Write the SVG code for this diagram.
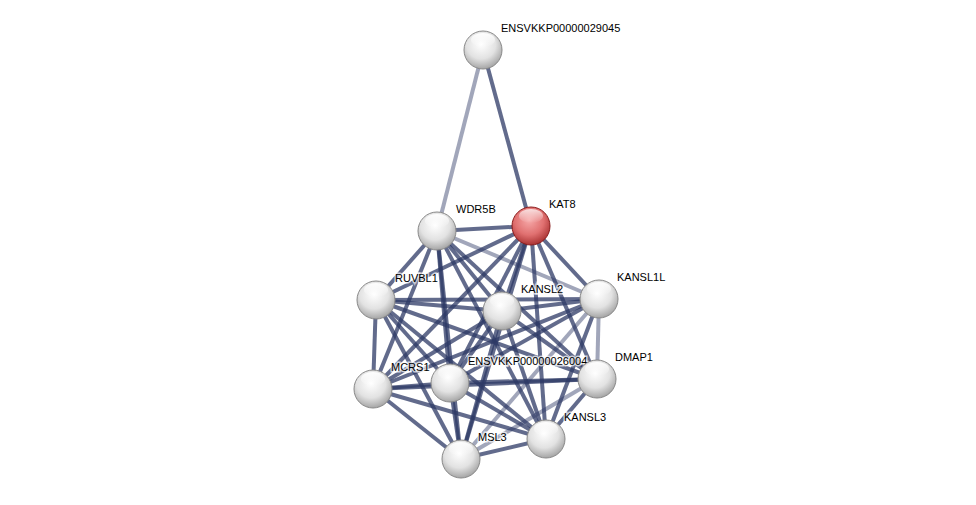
<svg xmlns="http://www.w3.org/2000/svg" width="976" height="505" viewBox="0 0 976 505">
<style>
.e{stroke:#2e3a66;stroke-width:4;fill:none;stroke-opacity:0.75}
.l{stroke-opacity:0.45}
.t{font-family:"Liberation Sans",Arial,sans-serif;font-size:11px;fill:#000;paint-order:stroke;stroke:#fff;stroke-width:3;stroke-opacity:0.7}
</style>
<defs>
<radialGradient id="g" cx="0.45" cy="0.35" r="0.7">
<stop offset="0" stop-color="#ffffff"/>
<stop offset="0.55" stop-color="#e2e2e2"/>
<stop offset="1" stop-color="#9a9a9a"/>
</radialGradient>
<radialGradient id="r" cx="0.45" cy="0.35" r="0.7">
<stop offset="0" stop-color="#f6a8a8"/>
<stop offset="0.55" stop-color="#e07070"/>
<stop offset="1" stop-color="#a02828"/>
</radialGradient>
<linearGradient id="h" x1="0" y1="0" x2="0" y2="1">
<stop offset="0" stop-color="#fff" stop-opacity="0.95"/>
<stop offset="1" stop-color="#fff" stop-opacity="0"/>
</linearGradient>
</defs>
<g id="edges">
<line class="e l" x1="483" y1="50" x2="437" y2="231"/>
<line class="e" x1="483" y1="50" x2="531" y2="226"/>
<line class="e" x1="531" y1="226" x2="437" y2="231"/>
<line class="e" x1="531" y1="226" x2="376" y2="300"/>
<line class="e" x1="531" y1="226" x2="502" y2="311"/>
<line class="e" x1="531" y1="226" x2="599" y2="299"/>
<line class="e" x1="531" y1="226" x2="373" y2="389"/>
<line class="e" x1="531" y1="226" x2="450" y2="383"/>
<line class="e" x1="531" y1="226" x2="597" y2="379"/>
<line class="e" x1="531" y1="226" x2="546" y2="439"/>
<line class="e" x1="531" y1="226" x2="461" y2="459"/>
<line class="e" x1="437" y1="231" x2="376" y2="300"/>
<line class="e" x1="437" y1="231" x2="502" y2="311"/>
<line class="e l" x1="437" y1="231" x2="599" y2="299"/>
<line class="e" x1="437" y1="231" x2="373" y2="389"/>
<line class="e" x1="437" y1="231" x2="450" y2="383"/>
<line class="e" x1="437" y1="231" x2="597" y2="379"/>
<line class="e" x1="437" y1="231" x2="546" y2="439"/>
<line class="e" x1="437" y1="231" x2="461" y2="459"/>
<line class="e" x1="376" y1="300" x2="502" y2="311"/>
<line class="e" x1="376" y1="300" x2="599" y2="299"/>
<line class="e" x1="376" y1="300" x2="373" y2="389"/>
<line class="e" x1="376" y1="300" x2="450" y2="383"/>
<line class="e" x1="376" y1="300" x2="597" y2="379"/>
<line class="e" x1="376" y1="300" x2="546" y2="439"/>
<line class="e" x1="376" y1="300" x2="461" y2="459"/>
<line class="e" x1="502" y1="311" x2="599" y2="299"/>
<line class="e" x1="502" y1="311" x2="373" y2="389"/>
<line class="e" x1="502" y1="311" x2="450" y2="383"/>
<line class="e" x1="502" y1="311" x2="597" y2="379"/>
<line class="e" x1="502" y1="311" x2="546" y2="439"/>
<line class="e" x1="502" y1="311" x2="461" y2="459"/>
<line class="e" x1="599" y1="299" x2="373" y2="389"/>
<line class="e" x1="599" y1="299" x2="450" y2="383"/>
<line class="e l" x1="599" y1="299" x2="597" y2="379"/>
<line class="e" x1="599" y1="299" x2="546" y2="439"/>
<line class="e l" x1="599" y1="299" x2="461" y2="459"/>
<line class="e" x1="373" y1="389" x2="450" y2="383"/>
<line class="e" x1="373" y1="389" x2="597" y2="379"/>
<line class="e" x1="373" y1="389" x2="546" y2="439"/>
<line class="e" x1="373" y1="389" x2="461" y2="459"/>
<line class="e" x1="450" y1="383" x2="597" y2="379"/>
<line class="e" x1="450" y1="383" x2="546" y2="439"/>
<line class="e" x1="450" y1="383" x2="461" y2="459"/>
<line class="e l" x1="597" y1="379" x2="461" y2="459"/>
<line class="e" x1="597" y1="379" x2="546" y2="439"/>
<line class="e" x1="546" y1="439" x2="461" y2="459"/>
</g>
<g id="n_ENSVKKP00000029045"><circle cx="483" cy="50" r="19" fill="url(#g)" stroke="#888" stroke-width="1"/><ellipse cx="483" cy="40" rx="12" ry="7" fill="url(#h)"/><text class="t" x="501" y="32">ENSVKKP00000029045</text></g>
<g id="n_KAT8"><circle cx="531" cy="226" r="19" fill="url(#r)" stroke="#8a1c1c" stroke-width="1"/><ellipse cx="531" cy="216" rx="12" ry="7" fill="url(#h)" opacity="0.8"/><text class="t" x="549" y="208">KAT8</text></g>
<g id="n_WDR5B"><circle cx="437" cy="231" r="19" fill="url(#g)" stroke="#888" stroke-width="1"/><ellipse cx="437" cy="221" rx="12" ry="7" fill="url(#h)"/><text class="t" x="456" y="213">WDR5B</text></g>
<g id="n_RUVBL1"><circle cx="376" cy="300" r="19" fill="url(#g)" stroke="#888" stroke-width="1"/><ellipse cx="376" cy="290" rx="12" ry="7" fill="url(#h)"/><text class="t" x="395" y="282">RUVBL1</text></g>
<g id="n_KANSL2"><circle cx="502" cy="311" r="19" fill="url(#g)" stroke="#888" stroke-width="1"/><ellipse cx="502" cy="301" rx="12" ry="7" fill="url(#h)"/><text class="t" x="521" y="293">KANSL2</text></g>
<g id="n_KANSL1L"><circle cx="599" cy="299" r="19" fill="url(#g)" stroke="#888" stroke-width="1"/><ellipse cx="599" cy="289" rx="12" ry="7" fill="url(#h)"/><text class="t" x="617" y="281">KANSL1L</text></g>
<g id="n_MCRS1"><circle cx="373" cy="389" r="19" fill="url(#g)" stroke="#888" stroke-width="1"/><ellipse cx="373" cy="379" rx="12" ry="7" fill="url(#h)"/><text class="t" x="391" y="371">MCRS1</text></g>
<g id="n_ENSVKKP00000026004"><circle cx="450" cy="383" r="19" fill="url(#g)" stroke="#888" stroke-width="1"/><ellipse cx="450" cy="373" rx="12" ry="7" fill="url(#h)"/><text class="t" x="468" y="365">ENSVKKP00000026004</text></g>
<g id="n_DMAP1"><circle cx="597" cy="379" r="19" fill="url(#g)" stroke="#888" stroke-width="1"/><ellipse cx="597" cy="369" rx="12" ry="7" fill="url(#h)"/><text class="t" x="615" y="361">DMAP1</text></g>
<g id="n_KANSL3"><circle cx="546" cy="439" r="19" fill="url(#g)" stroke="#888" stroke-width="1"/><ellipse cx="546" cy="429" rx="12" ry="7" fill="url(#h)"/><text class="t" x="564" y="421">KANSL3</text></g>
<g id="n_MSL3"><circle cx="461" cy="459" r="19" fill="url(#g)" stroke="#888" stroke-width="1"/><ellipse cx="461" cy="449" rx="12" ry="7" fill="url(#h)"/><text class="t" x="478" y="441">MSL3</text></g>
</svg>
